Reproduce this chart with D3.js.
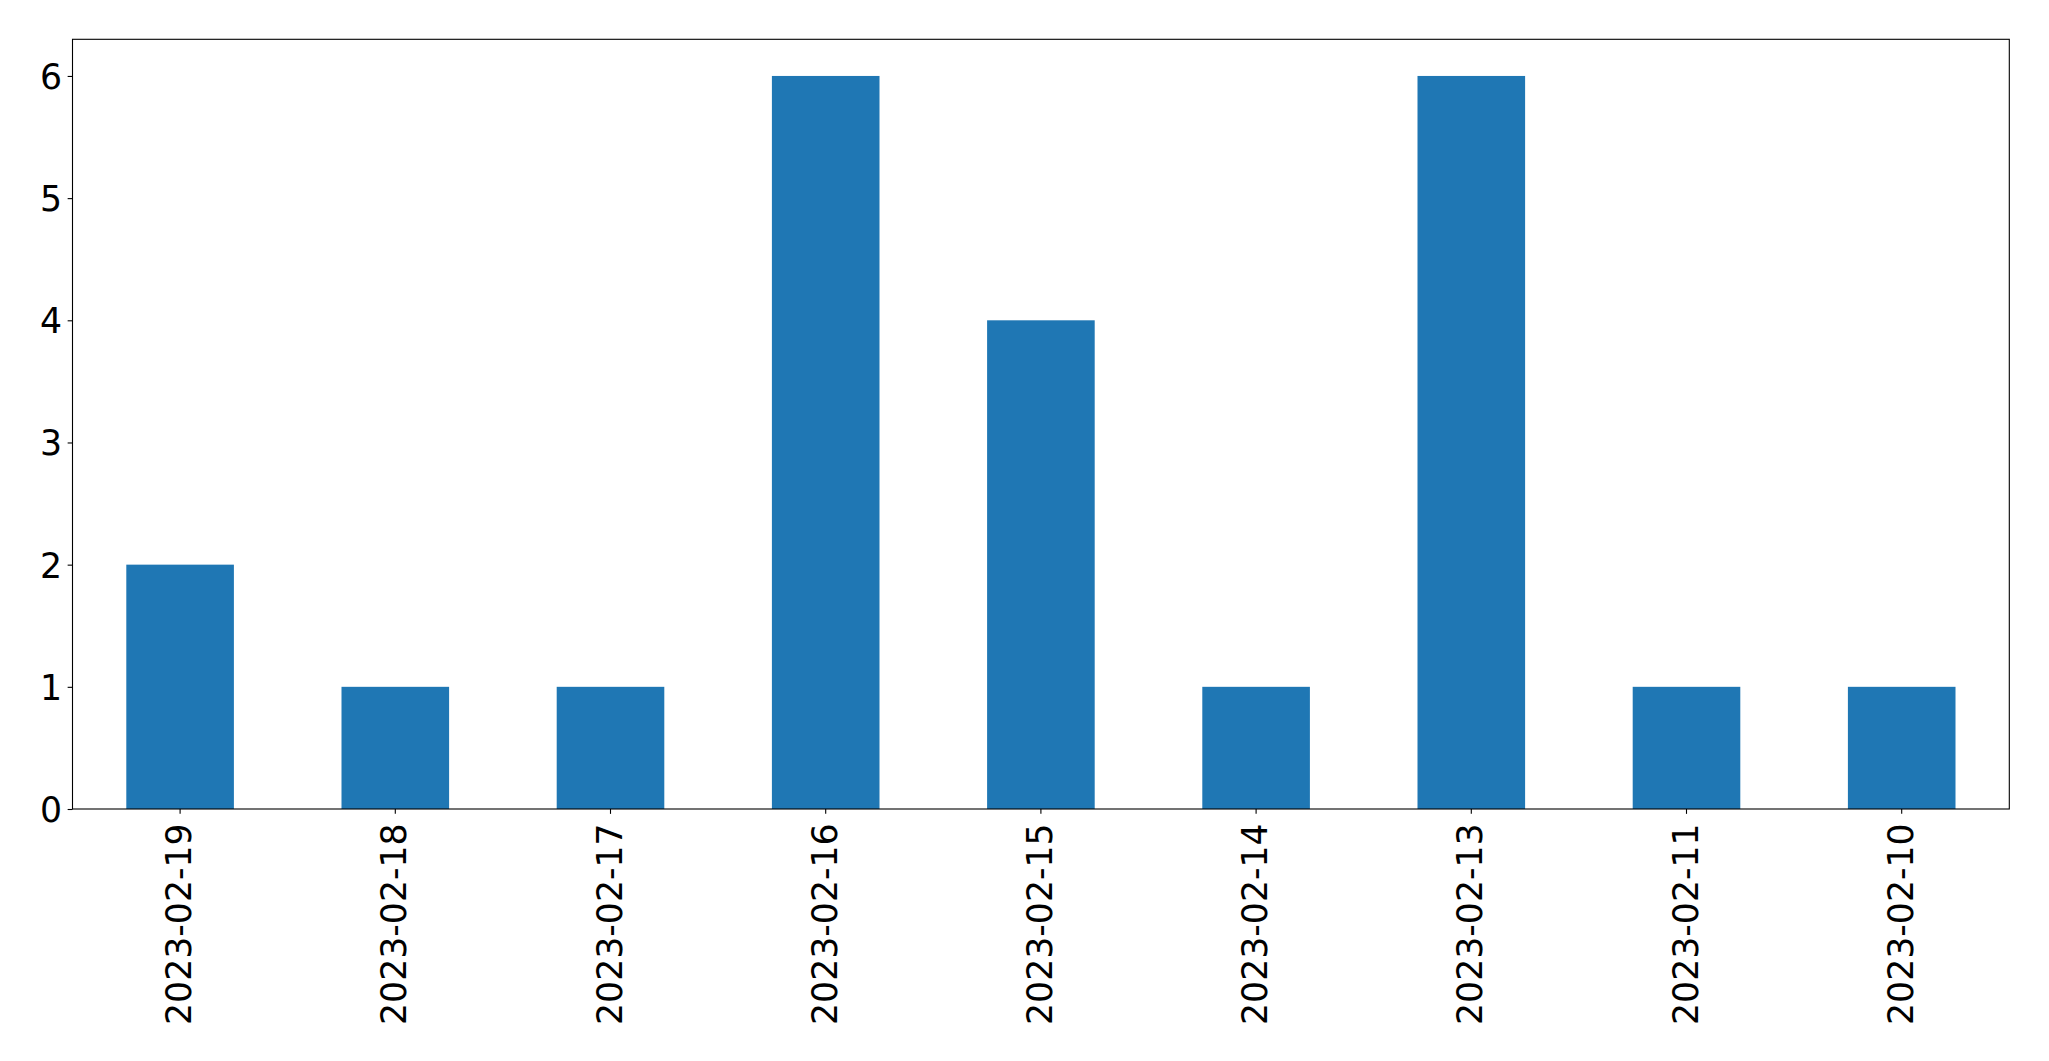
<!DOCTYPE html>
<html>
<head>
<meta charset="utf-8">
<script src="https://cdn.jsdelivr.net/npm/d3@7"></script>
<style>
  html, body { margin: 0; padding: 0; background: #fff; }
  svg { display: block; }
  text { font-family: "DejaVu Sans", sans-serif; fill: #000; }
</style>
</head>
<body>
<svg id="chart" width="2049" height="1061"></svg>
<script>
const categories = ["2023-02-19","2023-02-18","2023-02-17","2023-02-16","2023-02-15","2023-02-14","2023-02-13","2023-02-11","2023-02-10"];
const values = [2, 1, 1, 6, 4, 1, 6, 1, 1];
const yTicks = [0, 1, 2, 3, 4, 5, 6];

const W = 2049, H = 1061;
const margin = { left: 72.5, top: 39.3, right: W - 2009.3, bottom: H - 809 };
const innerW = W - margin.left - margin.right;
const innerH = H - margin.top - margin.bottom;

const svg = d3.select("#chart");
const g = svg.append("g").attr("transform", `translate(${margin.left},${margin.top})`);

const x = d3.scaleBand().domain(categories).range([0, innerW]).paddingInner(0.5).paddingOuter(0.25);
const y = d3.scaleLinear().domain([0, 6.3]).range([innerH, 0]);

g.selectAll("rect.bar").data(values).enter().append("rect")
  .attr("class", "bar")
  .attr("x", (d, i) => x(categories[i]))
  .attr("y", d => y(d))
  .attr("width", x.bandwidth())
  .attr("height", d => y(0) - y(d))
  .attr("fill", "#1f77b4");

const tickLen = 4.86, pad = 5.5, fs = 34.7;

// y axis
const yAxis = g.append("g").call(d3.axisLeft(y).tickValues(yTicks).tickSize(tickLen).tickPadding(pad).tickFormat(d3.format("d")));
yAxis.select(".domain").remove();
yAxis.selectAll("line").attr("stroke", "#000").attr("stroke-width", 1.1);
yAxis.selectAll("text").style("font-size", fs + "px").attr("dy", "0.36em");

// x axis
const xAxis = g.append("g").attr("transform", `translate(0,${innerH})`)
  .call(d3.axisBottom(x).tickSize(tickLen).tickPadding(pad));
xAxis.select(".domain").remove();
xAxis.selectAll("line").attr("stroke", "#000").attr("stroke-width", 1.1);
xAxis.selectAll("text")
  .style("font-size", fs + "px")
  .attr("text-anchor", "end")
  .attr("dominant-baseline", "central")
  .attr("dy", null)
  .attr("y", 0)
  .attr("x", 0)
  .attr("transform", `translate(-1,${tickLen + 9.5}) rotate(-90)`);

// frame
g.append("rect").attr("x", 0).attr("y", 0).attr("width", innerW).attr("height", innerH)
  .attr("fill", "none").attr("stroke", "#000").attr("stroke-width", 1.1);
</script>
</body>
</html>
